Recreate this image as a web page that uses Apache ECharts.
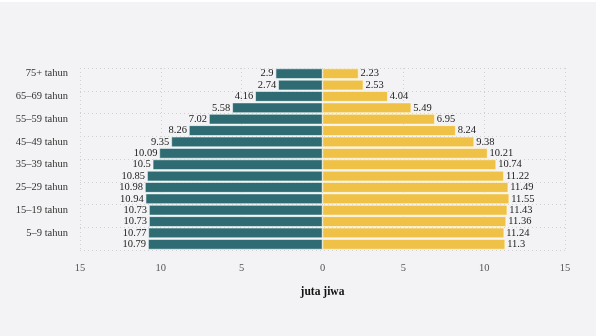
<!DOCTYPE html>
<html>
<head>
<meta charset="utf-8">
<script src="https://cdn.jsdelivr.net/npm/echarts@6/dist/echarts.min.js"></script>
<style>
  html, body { margin: 0; padding: 0; background: #ffffff; }
  #chart { position: absolute; left: 0; top: 2px; width: 596px; height: 334px; background: #f3f3f5; }
</style>
</head>
<body>
<div id="chart"></div>
<script>
// Age groups, youngest first (bottom of the pyramid)
const ageGroups = [
  '0–4 tahun', '5–9 tahun', '10–14 tahun', '15–19 tahun', '20–24 tahun',
  '25–29 tahun', '30–34 tahun', '35–39 tahun', '40–44 tahun', '45–49 tahun',
  '50–54 tahun', '55–59 tahun', '60–64 tahun', '65–69 tahun', '70–74 tahun', '75+ tahun'
];
// Population in millions (juta jiwa), same order as ageGroups
const leftValues = [10.79, 10.77, 10.73, 10.73, 10.94, 10.98, 10.85, 10.5, 10.09, 9.35, 8.26, 7.02, 5.58, 4.16, 2.74, 2.9];
const rightValues = [11.3, 11.24, 11.36, 11.43, 11.55, 11.49, 11.22, 10.74, 10.21, 9.38, 8.24, 6.95, 5.49, 4.04, 2.53, 2.23];
const valueTicks = { min: -15, max: 15, interval: 5 };
const axisTitle = 'juta jiwa';

const fontFamily = '"Liberation Serif", "DejaVu Serif", serif';
const chart = echarts.init(document.getElementById('chart'), null, { renderer: 'canvas' });

const showEveryOther = (i) => i % 2 === 1;

chart.setOption({
  backgroundColor: '#f3f3f5',
  animation: false,
  grid: { left: 80, right: 31, top: 66, bottom: 86, containLabel: false },
  xAxis: {
    type: 'value',
    min: valueTicks.min,
    max: valueTicks.max,
    interval: valueTicks.interval,
    name: axisTitle,
    nameLocation: 'middle',
    nameGap: 36,
    nameTextStyle: { fontFamily, fontSize: 11.5, fontWeight: 'bold', color: '#111' },
    axisLine: { show: false },
    axisTick: { show: false },
    axisLabel: {
      fontFamily, fontSize: 10.5, color: '#555', margin: 13,
      formatter: (v) => String(Math.abs(v))
    },
    splitLine: { show: true, lineStyle: { color: '#d0d0d5', type: [1, 3], width: 1 } }
  },
  yAxis: {
    type: 'category',
    data: ageGroups,
    axisLine: { show: false },
    axisTick: { show: false },
    axisLabel: {
      interval: showEveryOther,
      fontFamily, fontSize: 10.5, color: '#333', margin: 12
    },
    splitLine: {
      show: true,
      interval: (i) => i % 2 === 0,
      lineStyle: { color: '#d0d0d5', type: [1, 3], width: 1 }
    }
  },
  series: [
    {
      type: 'bar',
      stack: 'pyramid',
      data: leftValues.map((v) => -v),
      barCategoryGap: '8%',
      itemStyle: { color: '#2f6b72', borderColor: '#f4fbfb', borderWidth: 0.6 },
      label: {
        show: true,
        position: 'left',
        distance: 2,
        fontFamily, fontSize: 10.5, color: '#222',
        formatter: (p) => String(Math.abs(p.value))
      }
    },
    {
      type: 'bar',
      stack: 'pyramid',
      data: rightValues,
      barCategoryGap: '8%',
      itemStyle: { color: '#efc146', borderColor: '#fffbea', borderWidth: 0.6 },
      label: {
        show: true,
        position: 'right',
        distance: 2,
        fontFamily, fontSize: 10.5, color: '#222',
        formatter: (p) => String(p.value)
      }
    }
  ]
});
</script>
</body>
</html>
